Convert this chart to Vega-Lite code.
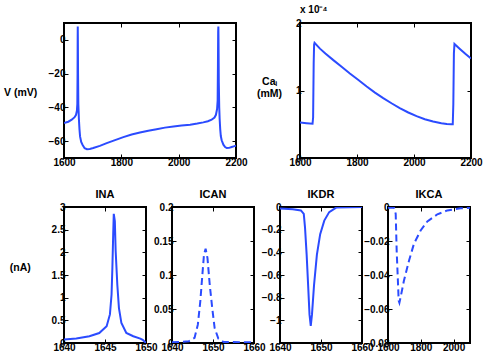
{
  "$schema": "https://vega.github.io/schema/vega-lite/v6.json",
  "autosize": "pad",
  "padding": {"left": 2, "top": 4, "right": 5, "bottom": 5},
  "background": "white",
  "config": {
    "font": "Liberation Sans",
    "view": {"stroke": "#000000", "strokeWidth": 2},
    "axis": {
      "grid": false, "domain": false, "ticks": true, "tickSize": -4, "tickColor": "#000000", "tickWidth": 1,
      "labelFont": "Liberation Sans", "labelFontSize": 10, "labelFontWeight": "bold", "labelColor": "#000000",
      "labelPadding": 3, "labelFlush": false, "labelOverlap": false,
      "titleFont": "Liberation Sans", "titleFontSize": 10.5, "titleFontWeight": "bold", "titleColor": "#000000"
    },
    "title": {"font": "Liberation Sans", "fontSize": 11, "fontWeight": "bold", "color": "#000000", "offset": 2}
  },
  "datasets": {
    "v": [
      {"t": 1600, "v": -49.3}, {"t": 1615, "v": -48.5}, {"t": 1627, "v": -47.3}, {"t": 1637, "v": -45.8},
      {"t": 1642, "v": -44.4}, {"t": 1645, "v": -42}, {"t": 1646.5, "v": -38}, {"t": 1647.3, "v": -20},
      {"t": 1647.7, "v": 0}, {"t": 1648, "v": 7.9}, {"t": 1648.4, "v": 0}, {"t": 1649, "v": -20},
      {"t": 1650, "v": -38}, {"t": 1652, "v": -47}, {"t": 1654, "v": -53}, {"t": 1656, "v": -57.2},
      {"t": 1660, "v": -60.5}, {"t": 1665, "v": -62.3}, {"t": 1672, "v": -64.2}, {"t": 1680, "v": -64.8},
      {"t": 1690, "v": -64.7}, {"t": 1702, "v": -64.1}, {"t": 1725, "v": -62.8}, {"t": 1749, "v": -61.2},
      {"t": 1778, "v": -59.4}, {"t": 1807, "v": -57.6}, {"t": 1836, "v": -56.1}, {"t": 1865, "v": -54.9},
      {"t": 1894, "v": -53.8}, {"t": 1923, "v": -52.9}, {"t": 1952, "v": -52.0}, {"t": 1982, "v": -51.3},
      {"t": 2010, "v": -50.8}, {"t": 2040, "v": -50.3}, {"t": 2065, "v": -49.6}, {"t": 2086, "v": -48.9},
      {"t": 2102, "v": -48.2}, {"t": 2115, "v": -47.3}, {"t": 2125, "v": -46}, {"t": 2130, "v": -44.4},
      {"t": 2134, "v": -41}, {"t": 2136, "v": -36}, {"t": 2137, "v": -15}, {"t": 2137.8, "v": 5},
      {"t": 2138.5, "v": 7.9}, {"t": 2139, "v": 0}, {"t": 2140, "v": -25}, {"t": 2141.5, "v": -40},
      {"t": 2143, "v": -47}, {"t": 2145, "v": -53}, {"t": 2147, "v": -57}, {"t": 2150, "v": -59.5},
      {"t": 2156, "v": -62.1}, {"t": 2162, "v": -63.5}, {"t": 2168, "v": -64.1}, {"t": 2176, "v": -64.0},
      {"t": 2185, "v": -63.5}, {"t": 2192, "v": -63.1}, {"t": 2200, "v": -62.7}
    ],
    "ca": [
      {"t": 1600, "ca": 0.0000527}, {"t": 1623, "ca": 0.0000516}, {"t": 1644, "ca": 0.0000507},
      {"t": 1646, "ca": 0.00006}, {"t": 1648, "ca": 0.00014}, {"t": 1649.5, "ca": 0.000168},
      {"t": 1651, "ca": 0.0001706}, {"t": 1670, "ca": 0.000162}, {"t": 1689, "ca": 0.0001549},
      {"t": 1717, "ca": 0.000145}, {"t": 1746, "ca": 0.0001352}, {"t": 1775, "ca": 0.0001253},
      {"t": 1805, "ca": 0.0001156}, {"t": 1834, "ca": 0.000106}, {"t": 1863, "ca": 0.0000969},
      {"t": 1892, "ca": 0.0000887}, {"t": 1921, "ca": 0.0000811}, {"t": 1950, "ca": 0.000074},
      {"t": 1980, "ca": 0.0000674}, {"t": 2009, "ca": 0.000062}, {"t": 2038, "ca": 0.0000575},
      {"t": 2067, "ca": 0.000054}, {"t": 2096, "ca": 0.0000516}, {"t": 2115, "ca": 0.0000505},
      {"t": 2131, "ca": 0.0000501}, {"t": 2136, "ca": 0.00005}, {"t": 2138, "ca": 0.00008},
      {"t": 2140, "ca": 0.000155}, {"t": 2142, "ca": 0.000169}, {"t": 2160, "ca": 0.000162},
      {"t": 2180, "ca": 0.0001545}, {"t": 2200, "ca": 0.0001475}
    ],
    "ina": [
      {"t": 1640, "i": 0.075}, {"t": 1641.5, "i": 0.097}, {"t": 1643.1, "i": 0.148}, {"t": 1644.3, "i": 0.22},
      {"t": 1645.2, "i": 0.37}, {"t": 1645.6, "i": 0.63}, {"t": 1645.8, "i": 1.07}, {"t": 1645.9, "i": 1.66},
      {"t": 1646.0, "i": 2.4}, {"t": 1646.07, "i": 2.85}, {"t": 1646.2, "i": 2.69}, {"t": 1646.3, "i": 2.03},
      {"t": 1646.5, "i": 1.29}, {"t": 1646.7, "i": 0.77}, {"t": 1647.0, "i": 0.44}, {"t": 1647.6, "i": 0.22},
      {"t": 1648.45, "i": 0.15}, {"t": 1649.3, "i": 0.097}, {"t": 1649.6, "i": 0.07}, {"t": 1650, "i": 0.0}
    ],
    "ican": [
      {"t": 1640, "i": 0.001}, {"t": 1644.1, "i": 0.0025}, {"t": 1645.5, "i": 0.0074}, {"t": 1646.3, "i": 0.027},
      {"t": 1646.9, "i": 0.061}, {"t": 1647.4, "i": 0.1}, {"t": 1647.8, "i": 0.13}, {"t": 1648.2, "i": 0.1385},
      {"t": 1648.65, "i": 0.125}, {"t": 1649.2, "i": 0.086}, {"t": 1649.8, "i": 0.052}, {"t": 1650.4, "i": 0.022},
      {"t": 1651.3, "i": 0.0065}, {"t": 1652.6, "i": 0.0015}, {"t": 1660, "i": 0.001}
    ],
    "ikdr": [
      {"t": 1640, "i": -0.014}, {"t": 1643.1, "i": -0.02}, {"t": 1645.1, "i": -0.03}, {"t": 1645.8, "i": -0.06},
      {"t": 1646.1, "i": -0.18}, {"t": 1646.5, "i": -0.42}, {"t": 1646.9, "i": -0.72}, {"t": 1647.2, "i": -0.95},
      {"t": 1647.5, "i": -1.05}, {"t": 1647.8, "i": -0.95}, {"t": 1648.3, "i": -0.69}, {"t": 1649.0, "i": -0.42},
      {"t": 1649.8, "i": -0.24}, {"t": 1650.8, "i": -0.12}, {"t": 1652.0, "i": -0.045}, {"t": 1653.7, "i": -0.005},
      {"t": 1660, "i": 0}
    ],
    "ikca": [
      {"t": 1600, "i": -0.0004}, {"t": 1636.6, "i": -0.0004}, {"t": 1647, "i": -0.004}, {"t": 1653, "i": -0.026},
      {"t": 1661, "i": -0.045}, {"t": 1665, "i": -0.055}, {"t": 1669.5, "i": -0.0563}, {"t": 1677, "i": -0.053},
      {"t": 1697, "i": -0.0434}, {"t": 1728, "i": -0.0316}, {"t": 1758, "i": -0.0217}, {"t": 1799, "i": -0.0138},
      {"t": 1840, "i": -0.0085}, {"t": 1901, "i": -0.0043}, {"t": 1962, "i": -0.002}, {"t": 2043, "i": -0.0008},
      {"t": 2100, "i": -0.0004}
    ]
  },
  "spacing": 20,
  "vconcat": [
    {
      "spacing": 64,
      "bounds": "flush",
      "hconcat": [
        {
          "width": 172, "height": 135,
          "data": {"name": "v"},
          "resolve": {"axis": {"x": "independent", "y": "independent"}},
          "layer": [
            {
              "mark": {"type": "line", "color": "#2b4bff", "strokeWidth": 2, "clip": true},
              "encoding": {
                "x": {"field": "t", "type": "quantitative", "scale": {"domain": [1600, 2200], "nice": false, "zero": false},
                      "axis": {"values": [1600, 1800, 2000, 2200], "format": "d", "title": null}},
                "y": {"field": "v", "type": "quantitative", "scale": {"domain": [-70, 10], "nice": false, "zero": false},
                      "axis": {"values": [-60, -40, -20, 0], "format": ".6~g", "title": "V (mV)", "titleAngle": 0,
                               "titleAlign": "left", "titleBaseline": "middle", "titleX": -60.5, "titleY": 69}}
              }
            },
            {
              "mark": {"type": "line", "strokeOpacity": 0, "clip": true},
              "encoding": {
                "x": {"field": "t", "type": "quantitative", "axis": {"orient": "top", "values": [1600, 1800, 2000, 2200], "labels": false, "title": null}},
                "y": {"field": "v", "type": "quantitative", "axis": {"orient": "right", "values": [-60, -40, -20, 0], "labels": false, "title": null}}
              }
            }
          ]
        },
        {
          "width": 171, "height": 135,
          "title": {"text": "x 10⁻⁴", "anchor": "start", "frame": "group", "fontSize": 10, "fontWeight": "bold", "offset": 3},
          "data": {"name": "ca"},
          "resolve": {"axis": {"x": "independent", "y": "independent"}},
          "layer": [
            {
              "mark": {"type": "line", "color": "#2b4bff", "strokeWidth": 2, "clip": true},
              "encoding": {
                "x": {"field": "t", "type": "quantitative", "scale": {"domain": [1600, 2200], "nice": false, "zero": false},
                      "axis": {"values": [1600, 1800, 2000, 2200], "format": "d", "title": null}},
                "y": {"field": "ca", "type": "quantitative", "scale": {"domain": [0, 0.0002], "nice": false},
                      "axis": {"values": [0, 0.0001, 0.0002], "labelExpr": "format(datum.value*10000, '.6~g')",
                               "title": ["Caᵢ", "(mM)"], "titleAngle": 0, "titleAlign": "center", "titleBaseline": "middle",
                               "titleLineHeight": 12, "titleX": -31, "titleY": 58}}
              }
            },
            {
              "mark": {"type": "line", "strokeOpacity": 0, "clip": true},
              "encoding": {
                "x": {"field": "t", "type": "quantitative", "axis": {"orient": "top", "values": [1600, 1800, 2000, 2200], "labels": false, "title": null}},
                "y": {"field": "ca", "type": "quantitative", "axis": {"orient": "right", "values": [0, 0.0001, 0.0002], "labels": false, "title": null}}
              }
            }
          ]
        }
      ]
    },
    {
      "spacing": 26,
      "bounds": "flush",
      "hconcat": [
        {
          "width": 82, "height": 136,
          "title": "INA",
          "data": {"name": "ina"},
          "resolve": {"axis": {"x": "independent", "y": "independent"}},
          "layer": [
            {
              "mark": {"type": "line", "color": "#2b4bff", "strokeWidth": 2, "clip": true},
              "encoding": {
                "x": {"field": "t", "type": "quantitative", "scale": {"domain": [1640, 1650], "nice": false, "zero": false},
                      "axis": {"values": [1640, 1645, 1650], "format": "d", "title": null}},
                "y": {"field": "i", "type": "quantitative", "scale": {"domain": [0, 3], "nice": false},
                      "axis": {"values": [0, 0.5, 1, 1.5, 2, 2.5, 3], "format": ".6~g", "title": "(nA)", "titleAngle": 0,
                               "titleAlign": "left", "titleBaseline": "middle", "titleX": -54.7, "titleY": 60}}
              }
            },
            {
              "mark": {"type": "line", "strokeOpacity": 0, "clip": true},
              "encoding": {
                "x": {"field": "t", "type": "quantitative", "axis": {"orient": "top", "values": [1640, 1645, 1650], "labels": false, "title": null}},
                "y": {"field": "i", "type": "quantitative", "axis": {"orient": "right", "values": [0, 0.5, 1, 1.5, 2, 2.5, 3], "labels": false, "title": null}}
              }
            }
          ]
        },
        {
          "width": 82, "height": 136,
          "title": "ICAN",
          "data": {"name": "ican"},
          "resolve": {"axis": {"x": "independent", "y": "independent"}},
          "layer": [
            {
              "mark": {"type": "line", "color": "#2b4bff", "strokeWidth": 2, "strokeDash": [7, 4], "clip": true},
              "encoding": {
                "x": {"field": "t", "type": "quantitative", "scale": {"domain": [1640, 1660], "nice": false, "zero": false},
                      "axis": {"values": [1640, 1650, 1660], "format": "d", "title": null}},
                "y": {"field": "i", "type": "quantitative", "scale": {"domain": [0, 0.2], "nice": false},
                      "axis": {"values": [0, 0.05, 0.1, 0.15, 0.2], "format": ".6~g", "title": null}}
              }
            },
            {
              "mark": {"type": "line", "strokeOpacity": 0, "clip": true},
              "encoding": {
                "x": {"field": "t", "type": "quantitative", "axis": {"orient": "top", "values": [1640, 1650, 1660], "labels": false, "title": null}},
                "y": {"field": "i", "type": "quantitative", "axis": {"orient": "right", "values": [0, 0.05, 0.1, 0.15, 0.2], "labels": false, "title": null}}
              }
            }
          ]
        },
        {
          "width": 82, "height": 136,
          "title": "IKDR",
          "data": {"name": "ikdr"},
          "resolve": {"axis": {"x": "independent", "y": "independent"}},
          "layer": [
            {
              "mark": {"type": "line", "color": "#2b4bff", "strokeWidth": 2, "clip": true},
              "encoding": {
                "x": {"field": "t", "type": "quantitative", "scale": {"domain": [1640, 1660], "nice": false, "zero": false},
                      "axis": {"values": [1640, 1650, 1660], "format": "d", "title": null}},
                "y": {"field": "i", "type": "quantitative", "scale": {"domain": [-1.2, 0], "nice": false, "zero": false},
                      "axis": {"values": [-1, -0.8, -0.6, -0.4, -0.2, 0], "format": ".6~g", "title": null}}
              }
            },
            {
              "mark": {"type": "line", "strokeOpacity": 0, "clip": true},
              "encoding": {
                "x": {"field": "t", "type": "quantitative", "axis": {"orient": "top", "values": [1640, 1650, 1660], "labels": false, "title": null}},
                "y": {"field": "i", "type": "quantitative", "axis": {"orient": "right", "values": [-1, -0.8, -0.6, -0.4, -0.2, 0], "labels": false, "title": null}}
              }
            }
          ]
        },
        {
          "width": 82, "height": 136,
          "title": "IKCA",
          "data": {"name": "ikca"},
          "resolve": {"axis": {"x": "independent", "y": "independent"}},
          "layer": [
            {
              "mark": {"type": "line", "color": "#2b4bff", "strokeWidth": 2, "strokeDash": [7, 4], "clip": true},
              "encoding": {
                "x": {"field": "t", "type": "quantitative", "scale": {"domain": [1600, 2100], "nice": false, "zero": false},
                      "axis": {"values": [1600, 1800, 2000], "format": "d", "title": null}},
                "y": {"field": "i", "type": "quantitative", "scale": {"domain": [-0.08, 0], "nice": false, "zero": false},
                      "axis": {"values": [-0.08, -0.06, -0.04, -0.02, 0], "format": ".6~g", "title": null}}
              }
            },
            {
              "mark": {"type": "line", "strokeOpacity": 0, "clip": true},
              "encoding": {
                "x": {"field": "t", "type": "quantitative", "axis": {"orient": "top", "values": [1600, 1800, 2000], "labels": false, "title": null}},
                "y": {"field": "i", "type": "quantitative", "axis": {"orient": "right", "values": [-0.08, -0.06, -0.04, -0.02, 0], "labels": false, "title": null}}
              }
            }
          ]
        }
      ]
    }
  ]
}
